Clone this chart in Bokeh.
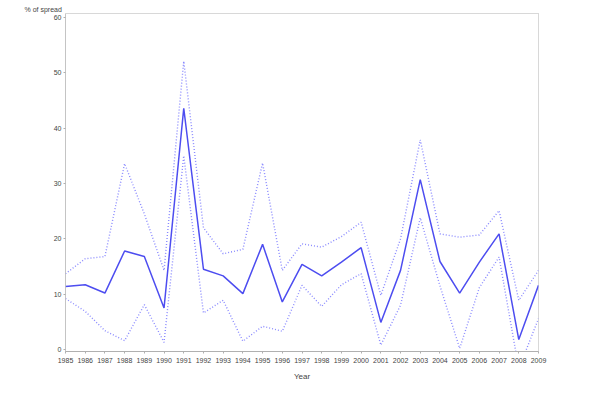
from bokeh.plotting import figure
from bokeh.models import Range1d, FixedTicker
from bokeh.embed import file_html
from bokeh.resources import INLINE

years = list(range(1985, 2010))
mean = [11.4, 11.7, 10.2, 17.8, 16.8, 7.5, 43.6, 14.5, 13.3, 10.1, 19.0, 8.6, 15.4,
        13.3, 15.8, 18.4, 4.9, 14.3, 30.7, 15.9, 10.2, 15.8, 20.9, 1.8, 11.6]
upper = [13.7, 16.4, 16.8, 33.6, 24.5, 14.3, 52.1, 22.0, 17.3, 18.1, 33.7, 14.3, 19.1,
         18.5, 20.4, 23.0, 9.8, 20.0, 37.9, 20.9, 20.3, 20.7, 25.1, 8.9, 14.3]
lower = [9.2, 6.9, 3.4, 1.6, 8.1, 1.3, 35.0, 6.6, 8.9, 1.5, 4.2, 3.3, 11.6,
         7.8, 11.7, 13.7, 0.8, 8.0, 23.8, 11.5, 0.2, 11.2, 16.7, -3.5, 5.6]
y_ticks = [0, 10, 20, 30, 40, 50, 60]

FONT = "Liberation Sans"
GREY = "#b0b0b0"

p = figure(width=584, height=397, output_backend="svg", toolbar_location=None,
           x_range=Range1d(1985, 2009), y_range=Range1d(-0.36, 60.72),
           min_border_left=65, min_border_right=46, min_border_top=13,
           min_border_bottom=46, title="% of spread")
p.title.align = "left"
p.title.offset = -41
p.title.standoff = 1
p.title.text_font = FONT
p.title.text_font_size = "7px"
p.title.text_font_style = "normal"
p.title.text_color = "#444444"
p.background_fill_color = "white"
p.border_fill_color = "white"
p.xgrid.visible = False
p.ygrid.visible = False
p.outline_line_color = GREY
p.outline_line_dash = "1 1"
p.outline_line_width = 1

# lines
p.line(years, upper, line_color="#8a8aff", line_width=1.4, line_dash="1 2")
p.line(years, lower, line_color="#8a8aff", line_width=1.4, line_dash="1 2")
p.line(years, mean, line_color="#4d4df0", line_width=1.5)

# x axis
xa = p.xaxis[0]
xa.ticker = FixedTicker(ticks=years)
xa.axis_line_color = GREY
xa.major_tick_line_color = GREY
xa.major_tick_in = 0
xa.major_tick_out = 2
xa.minor_tick_line_color = None
xa.major_label_text_font = FONT
xa.major_label_text_font_size = "7px"
xa.major_label_text_color = "#444444"
xa.major_label_standoff = 4
xa.axis_label = "Year"
xa.axis_label_text_font = FONT
xa.axis_label_text_font_size = "8px"
xa.axis_label_text_font_style = "normal"
xa.axis_label_text_color = "#444444"
xa.axis_label_standoff = 6

# y axis
ya = p.yaxis[0]
ya.ticker = FixedTicker(ticks=y_ticks)
ya.axis_line_color = GREY
ya.axis_line_dash = "1 1"
ya.major_tick_line_color = GREY
ya.major_tick_in = 0
ya.major_tick_out = 2
ya.minor_tick_line_color = None
ya.major_label_text_font = FONT
ya.major_label_text_font_size = "7px"
ya.major_label_text_color = "#444444"
ya.major_label_standoff = 2

open("out.html", "w").write(file_html(p, INLINE))
